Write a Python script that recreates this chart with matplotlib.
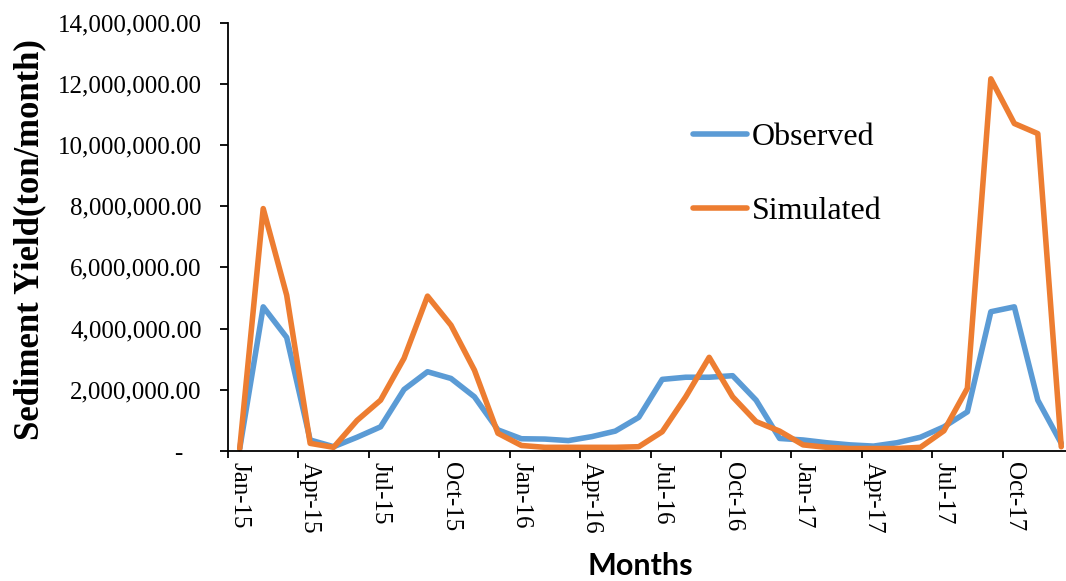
import numpy as np
import matplotlib
matplotlib.use("Agg")
import matplotlib.pyplot as plt
from matplotlib.ticker import FuncFormatter, MultipleLocator

# monthly sediment yield, Jan-15 .. Dec-17 (millions of ton/month)
months = ['Jan', 'Feb', 'Mar', 'Apr', 'May', 'Jun', 'Jul', 'Aug', 'Sep', 'Oct', 'Nov', 'Dec']
years = ['15', '16', '17']
labels = [m + '-' + y for y in years for m in months]

observed = [0.08, 4.71, 3.71, 0.36, 0.14, 0.45, 0.79, 2.01, 2.59, 2.37, 1.77, 0.69,
            0.40, 0.39, 0.34, 0.47, 0.65, 1.10, 2.34, 2.41, 2.41, 2.46, 1.66, 0.41,
            0.36, 0.27, 0.20, 0.16, 0.27, 0.45, 0.79, 1.28, 4.55, 4.71, 1.66, 0.25]
simulated = [0.08, 7.92, 5.09, 0.25, 0.12, 1.00, 1.66, 3.03, 5.06, 4.11, 2.64, 0.58,
             0.18, 0.12, 0.12, 0.12, 0.12, 0.14, 0.63, 1.77, 3.06, 1.77, 0.96, 0.65,
             0.20, 0.12, 0.08, 0.08, 0.08, 0.12, 0.66, 2.05, 12.16, 10.70, 10.37, 0.14]

observed = np.array(observed) * 1e6
simulated = np.array(simulated) * 1e6
x = np.arange(len(labels))

W, H = 1066, 581
fig = plt.figure(figsize=(W / 100, H / 100), dpi=100)
ax = fig.add_axes([228 / W, 1 - 451 / H, (1073 - 228) / W, (451 - 22.5) / H])

serif = 'Liberation Serif'

ax.plot(x, observed, color='#5B9BD5', lw=4, solid_joinstyle='round',
        solid_capstyle='round', label='Observed', clip_on=False)
ax.plot(x, simulated, color='#ED7D31', lw=4, solid_joinstyle='round',
        solid_capstyle='round', label='Simulated', clip_on=False)

ax.set_xlim(-0.5, len(labels) - 0.5)
ax.set_ylim(0, 14e6)

for s in ['top', 'right']:
    ax.spines[s].set_visible(False)
for s in ['left', 'bottom']:
    ax.spines[s].set_linewidth(1.3)

# y axis
ax.yaxis.set_major_locator(MultipleLocator(2e6))
def yfmt(v, pos):
    if v == 0:
        return '-   '
    return '{:,.2f}'.format(v)
ax.yaxis.set_major_formatter(FuncFormatter(yfmt))
ax.tick_params(axis='y', direction='out', length=6, width=1.3, pad=13)
for t in ax.get_yticklabels():
    t.set_fontfamily(serif)
    t.set_fontsize(18)

# x axis: ticks between categories, labels at category centres
ax.set_xticks(np.arange(-0.5, len(labels), 3))
ax.set_xticklabels([])
ax.tick_params(axis='x', which='major', direction='out', length=5, width=1.3)
ax.set_xticks(x[::3], minor=True)
ax.set_xticklabels(labels[::3], minor=True, rotation=-90, fontfamily=serif,
                   fontsize=18, va='top', ha='center')
ax.tick_params(axis='x', which='minor', length=0, pad=8)

fig.text(30 / W, 1 - 240 / H, 'Sediment Yield(ton/month)', rotation=90,
         ha='center', va='center', fontfamily=serif, fontweight='bold', fontsize=25)
fig.text(640 / W, 1 - 566 / H, 'Months', ha='center', va='center',
         fontfamily='Lato', fontweight='bold', fontsize=22)

ax.legend(loc='upper left', bbox_to_anchor=(693 / W, 1 - 123 / H),
          bbox_transform=fig.transFigure, frameon=False, borderpad=0,
          borderaxespad=0, handlelength=1.7, handletextpad=0.15,
          labelspacing=1.4, prop={'family': serif, 'size': 23})

fig.savefig('out.png', dpi=100)
